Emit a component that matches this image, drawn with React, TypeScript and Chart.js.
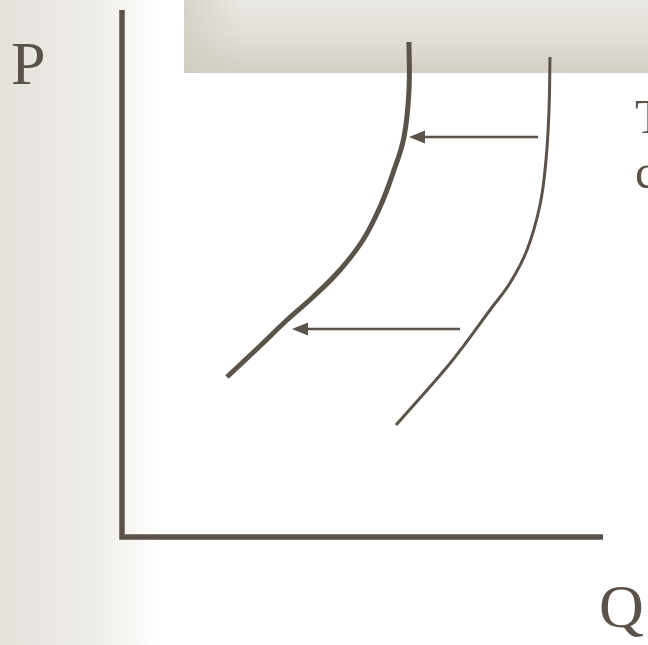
import React, { useEffect, useRef } from "react";
import { Chart, registerables } from "chart.js";

Chart.register(...registerables);

// Data space: Q (quantity) to the right, P (price) upward; origin at the axes' corner.
const shiftedCurveQ = [287, 287, 282, 271, 258, 241, 218, 191, 165, 138, 105];
const shiftedCurveP = [495, 447, 400, 364, 330, 297, 267, 240, 217, 191, 160];

const originalCurveQ = [428, 427, 424, 418, 405, 388, 368, 346, 325, 298, 274];
const originalCurveP = [480, 427, 377, 332, 287, 254, 227, 197, 170, 139, 112];

const axisYTop = 527;
const axisXEnd = 481;

// arrows: [fromQ, toQ, atP]
const arrowFromQ = [416, 338];
const arrowToQ = [287, 170];
const arrowAtP = [400, 208];

const axisLabels = ["P", "Q"];
const sideText = ["T", "c"];

const INK = "#5b5349";

const pts = (xs: number[], ys: number[]) => xs.map((x, i) => ({ x, y: ys[i] }));

export default function App() {
  const ref = useRef<HTMLCanvasElement | null>(null);

  useEffect(() => {
    document.body.style.margin = "0";
    const canvas = ref.current;
    if (!canvas) return;

    const bgPlugin = {
      id: "bg",
      beforeDraw(chart: any) {
        const ctx = chart.ctx;
        const w = chart.width;
        const h = chart.height;
        ctx.save();
        ctx.fillStyle = "#ffffff";
        ctx.fillRect(0, 0, w, h);
        const g = ctx.createLinearGradient(0, 0, 162, 0);
        g.addColorStop(0, "#e5e2dc");
        g.addColorStop(0.55, "#eeece7");
        g.addColorStop(0.8, "#f7f6f3");
        g.addColorStop(1, "#ffffff");
        ctx.fillStyle = g;
        ctx.fillRect(0, 0, 162, h);
        // top banner
        const bx = 184, by = 0, bw = w - 184, bh = 73;
        const g2 = ctx.createLinearGradient(0, by, 0, by + bh);
        g2.addColorStop(0, "#ebe9e4");
        g2.addColorStop(0.45, "#e3e0d9");
        g2.addColorStop(1, "#d3cfc4");
        ctx.fillStyle = g2;
        ctx.fillRect(bx, by, bw, bh);
        const g3 = ctx.createLinearGradient(bx, 0, bx + 60, 0);
        g3.addColorStop(0, "rgba(208,203,191,0.7)");
        g3.addColorStop(1, "rgba(208,203,191,0)");
        ctx.fillStyle = g3;
        ctx.fillRect(bx, by, 60, bh);
        ctx.restore();
      },
    };

    const overlayPlugin = {
      id: "overlay",
      afterDatasetsDraw(chart: any) {
        const ctx = chart.ctx;
        const xs = chart.scales.x;
        const ys = chart.scales.y;
        ctx.save();
        ctx.strokeStyle = INK;
        ctx.fillStyle = INK;
        ctx.lineWidth = 2.5;
        for (let i = 0; i < arrowFromQ.length; i++) {
          const x0 = xs.getPixelForValue(arrowFromQ[i]);
          const x1 = xs.getPixelForValue(arrowToQ[i]);
          const y = ys.getPixelForValue(arrowAtP[i]);
          const head = 16;
          ctx.beginPath();
          ctx.moveTo(x0, y);
          ctx.lineTo(x1 + head - 2, y);
          ctx.stroke();
          ctx.beginPath();
          ctx.moveTo(x1, y);
          ctx.lineTo(x1 + head, y - 6.5);
          ctx.lineTo(x1 + head, y + 6.5);
          ctx.closePath();
          ctx.fill();
        }
        ctx.font = '62px "Liberation Serif", "DejaVu Serif", serif';
        ctx.textBaseline = "alphabetic";
        ctx.textAlign = "left";
        ctx.fillText(axisLabels[0], 11, 84);
        ctx.fillText(axisLabels[1], 599, 627);
        ctx.font = '48px "Liberation Serif", "DejaVu Serif", serif';
        ctx.fillText(sideText[0], 635, 133);
        ctx.fillText(sideText[1], 635, 188);
        ctx.restore();
      },
    };

    const chart = new Chart(canvas, {
      type: "scatter",
      data: {
        datasets: [
          {
            data: [
              { x: 0, y: axisYTop },
              { x: 0, y: 0 },
              { x: axisXEnd, y: 0 },
            ],
            showLine: true,
            borderColor: INK,
            borderWidth: 5.5,
            pointRadius: 0,
            tension: 0,
            borderJoinStyle: "miter",
          } as any,
          {
            data: pts(shiftedCurveQ, shiftedCurveP),
            showLine: true,
            borderColor: INK,
            borderWidth: 5,
            pointRadius: 0,
            tension: 0.4,
          } as any,
          {
            data: pts(originalCurveQ, originalCurveP),
            showLine: true,
            borderColor: INK,
            borderWidth: 3,
            pointRadius: 0,
            tension: 0.4,
          } as any,
        ],
      },
      options: {
        animation: false,
        responsive: false,
        maintainAspectRatio: false,
        layout: { padding: 0 },
        plugins: {
          legend: { display: false },
          tooltip: { enabled: false },
          title: { display: false },
        },
        scales: {
          x: { type: "linear", min: -122, max: 526, display: false },
          y: { type: "linear", min: -108, max: 537, display: false },
        },
      },
      plugins: [bgPlugin, overlayPlugin],
    });

    return () => chart.destroy();
  }, []);

  return (
    <div style={{ width: 648, height: 645 }}>
      <canvas ref={ref} width={648} height={645} style={{ display: "block" }} />
    </div>
  );
}
